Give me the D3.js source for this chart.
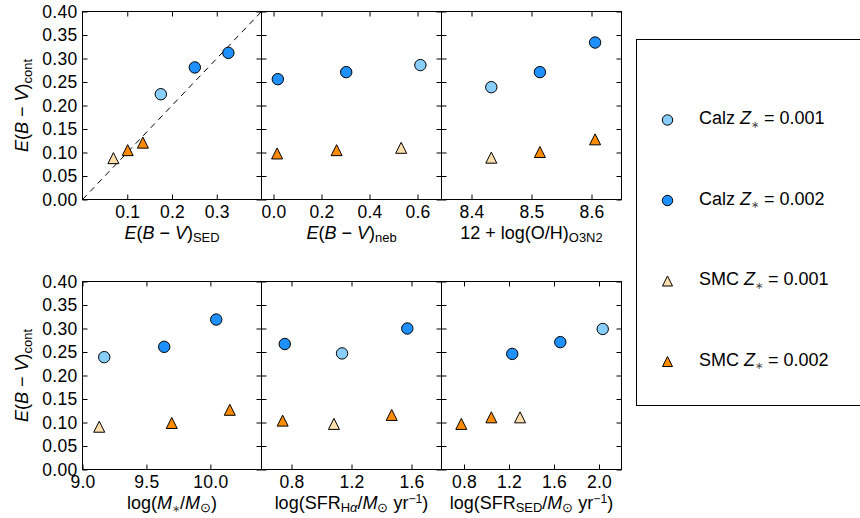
<!DOCTYPE html>
<html>
<head>
<meta charset="utf-8">
<script src="https://cdn.jsdelivr.net/npm/d3@7"></script>
<style>
  body { margin: 0; background: #fff; }
  text { font-family: "Liberation Sans", Arial, Helvetica, sans-serif; fill: #000; }
</style>
</head>
<body>
<div id="chart"></div>
<script>
// x-axis setup of the six panels (row by row)
const xDomains = [[0, 0.4], [-0.05, 0.7], [8.35, 8.65], [9.0, 10.4], [0.6, 1.8], [0.6, 2.2]];
const xTicks = [[0.1, 0.2, 0.3], [0.0, 0.2, 0.4, 0.6], [8.4, 8.5, 8.6], [9.0, 9.5, 10.0], [0.8, 1.2, 1.6], [0.8, 1.2, 1.6, 2.0]];
const yTicks = [0.00, 0.05, 0.10, 0.15, 0.20, 0.25, 0.30, 0.35, 0.40];
const oneToOne = [0, 0.4];

// points: [panel, x, E(B-V)cont]
const calz001 = [[0, 0.175, 0.224], [1, 0.612, 0.286], [2, 8.433, 0.239], [3, 9.170, 0.239], [4, 1.137, 0.247], [5, 2.033, 0.299]];
const calz002 = [[0, 0.251, 0.281], [0, 0.326, 0.312], [1, 0.018, 0.256], [1, 0.303, 0.271], [2, 8.514, 0.271], [2, 8.606, 0.334],
                 [3, 9.639, 0.261], [3, 10.046, 0.319], [4, 0.755, 0.267], [4, 1.572, 0.300], [5, 1.229, 0.246], [5, 1.656, 0.271]];
const smc001 = [[0, 0.069, 0.088], [1, 0.532, 0.110], [2, 8.433, 0.089], [3, 9.131, 0.091], [4, 1.083, 0.097], [5, 1.298, 0.111]];
const smc002 = [[0, 0.101, 0.105], [0, 0.135, 0.121], [1, 0.015, 0.098], [1, 0.263, 0.105], [2, 8.514, 0.101], [2, 8.606, 0.128],
                [3, 9.698, 0.099], [3, 10.152, 0.127], [4, 0.741, 0.104], [4, 1.468, 0.116], [5, 0.776, 0.097], [5, 1.043, 0.111]];

const series = [
  {name: "Calz", z: "0.001", data: calz001, shape: "o", color: "#87cefa"},
  {name: "Calz", z: "0.002", data: calz002, shape: "o", color: "#1e90ff"},
  {name: "SMC", z: "0.001", data: smc001, shape: "^", color: "#ffdead"},
  {name: "SMC", z: "0.002", data: smc002, shape: "^", color: "#ff8c00"}
];

const EBV = [{t: "E", i: 1}, {t: "("}, {t: "B", i: 1}, {t: " − "}, {t: "V", i: 1}, {t: ")"}];
const xLabels = [
  EBV.concat([{t: "SED", sub: 1}]),
  EBV.concat([{t: "neb", sub: 1}]),
  [{t: "12 + log(O/H)"}, {t: "O3N2", sub: 1}],
  [{t: "log("}, {t: "M", i: 1}, {t: "∗", sub: 1, small: 1}, {t: "/"}, {t: "M", i: 1}, {t: "⊙", sub: 1}, {t: ")"}],
  [{t: "log(SFR"}, {t: "H", sub: 1}, {t: "α", sub: 1, i: 1}, {t: "/"}, {t: "M", i: 1}, {t: "⊙", sub: 1}, {t: " yr"}, {t: "−1", sup: 1}, {t: ")"}],
  [{t: "log(SFR"}, {t: "SED", sub: 1}, {t: "/"}, {t: "M", i: 1}, {t: "⊙", sub: 1}, {t: " yr"}, {t: "−1", sup: 1}, {t: ")"}]
];
const yLabel = EBV.concat([{t: "cont", sub: 1}]);

const W = 860, H = 518;
const colX = [82.5, 261.5, 441.5], colW = [179, 180, 180];
const rowY = [11.5, 281.5], ph = 188;
const fs = 18, tfs = 17.5, tickLen = 5;

const svg = d3.select("#chart").append("svg")
  .attr("width", W).attr("height", H);

function rich(text, parts, size) {
  let shift = 0;
  parts.forEach(p => {
    const target = p.sub ? size * 0.22 : p.sup ? -size * 0.32 : 0;
    const ts = text.append("tspan").text(p.t).attr("dy", target - shift);
    shift = target;
    if (p.i) ts.attr("font-style", "italic");
    if (p.sub || p.sup) ts.attr("font-size", size * (p.small ? 0.55 : p.sup ? 0.68 : 0.72));
    if (p.small) ts.attr("fill", "#444");
  });
}

function marker(shape, s) {
  if (shape === "o") {
    const p = d3.path();
    p.arc(0, 0, s, 0, 2 * Math.PI);
    p.closePath();
    return p.toString();
  }
  return "M0," + (-s) + "L" + s + "," + s + "L" + (-s) + "," + s + "Z";
}

const fmt = d3.format(".1f");

for (let k = 0; k < 6; k++) {
  const row = Math.floor(k / 3), col = k % 3;
  const x0 = colX[col], y0 = rowY[row], pw = colW[col];
  const x = d3.scaleLinear().domain(xDomains[k]).range([x0, x0 + pw]);
  const y = d3.scaleLinear().domain([0, 0.4]).range([y0 + ph, y0]);
  const g = svg.append("g");

  // ticks on all four sides, pointing in
  g.append("g").attr("transform", "translate(0," + (y0 + ph) + ")")
    .call(d3.axisBottom(x).tickValues(xTicks[k]).tickSizeInner(-tickLen).tickSizeOuter(0).tickFormat(fmt).tickPadding(6));
  g.append("g").attr("transform", "translate(0," + y0 + ")")
    .call(d3.axisTop(x).tickValues(xTicks[k]).tickSizeInner(-tickLen).tickSizeOuter(0).tickFormat(""));
  g.append("g").attr("transform", "translate(" + x0 + ",0)")
    .call(d3.axisLeft(y).tickValues(yTicks).tickSizeInner(-tickLen).tickSizeOuter(0)
      .tickFormat(col === 0 ? d3.format(".2f") : "").tickPadding(5));
  g.append("g").attr("transform", "translate(" + (x0 + pw) + ",0)")
    .call(d3.axisRight(y).tickValues(yTicks).tickSizeInner(-tickLen).tickSizeOuter(0).tickFormat(""));
  g.selectAll(".domain").remove();
  g.selectAll(".tick line").attr("stroke", "#000").attr("stroke-width", 1);
  g.selectAll(".tick text").attr("font-size", tfs).attr("letter-spacing", 0.3)
    .attr("font-family", '"Liberation Sans", Arial, sans-serif').attr("fill", "#000");

  if (k === 0) {
    svg.append("clipPath").attr("id", "clip0").append("rect")
      .attr("x", x0).attr("y", y0).attr("width", pw).attr("height", ph);
    g.append("path")
      .datum(oneToOne)
      .attr("clip-path", "url(#clip0)")
      .attr("fill", "none")
      .attr("stroke", "#000")
      .attr("stroke-width", 1)
      .attr("stroke-dasharray", "6,5")
      .attr("d", d3.line().x(d => x(d)).y(d => y(d)));
  }

  series.forEach(s => {
    g.append("g").selectAll("path")
      .data(s.data.filter(d => d[0] === k))
      .enter().append("path")
      .attr("transform", d => "translate(" + x(d[1]) + "," + y(d[2]) + ")")
      .attr("d", marker(s.shape, s.shape === "o" ? 5.7 : 5.5))
      .attr("fill", s.color)
      .attr("stroke", "#000")
      .attr("stroke-width", 1);
  });

  g.append("rect")
    .attr("x", x0).attr("y", y0).attr("width", pw).attr("height", ph)
    .attr("fill", "none").attr("stroke", "#000").attr("stroke-width", 1);

  const xl = g.append("text")
    .attr("x", x0 + pw / 2).attr("y", y0 + ph + 39)
    .attr("text-anchor", "middle").attr("font-size", fs);
  rich(xl, xLabels[k], fs);

  if (col === 0) {
    const yl = g.append("text")
      .attr("transform", "translate(28," + (y0 + ph / 2) + ") rotate(-90)")
      .attr("text-anchor", "middle").attr("font-size", fs);
    rich(yl, yLabel, fs);
  }
}

// legend
const leg = svg.append("g");
leg.append("rect")
  .attr("x", 636.5).attr("y", 39.5).attr("width", 240).attr("height", 366)
  .attr("fill", "#fff").attr("stroke", "#000").attr("stroke-width", 1);
series.forEach((s, i) => {
  const ly = 120 + i * 80.5;
  leg.append("path")
    .attr("transform", "translate(667.5," + ly + ")")
    .attr("d", marker(s.shape, s.shape === "o" ? 5.2 : 5))
    .attr("fill", s.color).attr("stroke", "#000").attr("stroke-width", 1);
  const t = leg.append("text").attr("x", 699).attr("y", ly + 4).attr("font-size", fs);
  rich(t, [{t: s.name + " "}, {t: "Z", i: 1}, {t: "∗", sub: 1, small: 1}, {t: " = " + s.z}], fs);
});
</script>
</body>
</html>
